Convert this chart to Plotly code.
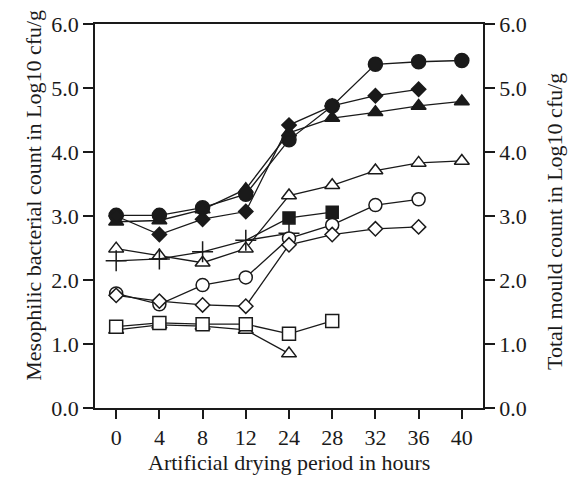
import plotly.graph_objects as go

# Drying period categories (hours) and their tick labels
hours = ["0", "4", "8", "12", "24", "28", "32", "36", "40"]

# Series values in Log10 cfu/g, one entry per sampling time
filled_circle = [3.01, 3.01, 3.13, 3.34, 4.19, 4.72, 5.37, 5.41, 5.43]
filled_triangle = [2.91, 2.93, 3.10, 3.42, 4.30, 4.53, 4.62, 4.72, 4.79]
filled_diamond = [3.00, 2.71, 2.95, 3.07, 4.42, 4.72, 4.88, 4.98]
plus_series = [2.30, 2.33, 2.44, 2.62, 2.73]
filled_square_hours = ["12", "24", "28"]
filled_square = [2.62, 2.97, 3.06]
open_triangle_hi = [2.49, 2.38, 2.27, 2.49, 3.32, 3.48, 3.71, 3.83, 3.86]
open_circle = [1.79, 1.62, 1.92, 2.04, 2.65, 2.86, 3.17, 3.26]
open_diamond = [1.76, 1.67, 1.61, 1.59, 2.55, 2.71, 2.80, 2.83]
open_triangle_lo = [1.22, 1.30, 1.28, 1.22, 0.85]
open_square = [1.27, 1.33, 1.31, 1.31, 1.16, 1.36]

y_ticks = [0, 1, 2, 3, 4, 5, 6]
y_ticktext = ["0.0", "1.0", "2.0", "3.0", "4.0", "5.0", "6.0"]

INK = "#1a1a1a"
FONT = "'Liberation Serif', 'Times New Roman', serif"


def pos(labels):
    return [hours.index(h) for h in labels]


def series(values, symbol, size, filled, labels=None, yaxis="y", sizes=None):
    labels = labels if labels is not None else hours[:len(values)]
    return go.Scatter(
        x=pos(labels), y=values, mode="lines+markers", yaxis=yaxis,
        line=dict(color=INK, width=1.3),
        marker=dict(
            symbol=symbol, size=sizes if sizes is not None else size,
            color=INK if filled else "white", opacity=1,
            line=dict(color=INK, width=1.5),
        ),
        showlegend=False, hoverinfo="x+y",
    )


fig = go.Figure()
fig.add_trace(series(filled_circle, "circle", 14, True))
fig.add_trace(series(filled_triangle, "triangle-up", 13, True))
fig.add_trace(series(filled_diamond, "diamond", 11, True))
fig.add_trace(series(plus_series, "cross-thin", 15, False, yaxis="y2"))
# this series branches off the "+" series at 12 h, so its first point has no marker
fig.add_trace(series(filled_square, "square", 12, True, labels=filled_square_hours,
                     yaxis="y2", sizes=[0, 12, 12]))
fig.add_trace(series(open_triangle_hi, "triangle-up", 13, False))
fig.add_trace(series(open_circle, "circle", 13, False, yaxis="y2"))
fig.add_trace(series(open_diamond, "diamond", 11, False, yaxis="y2"))
fig.add_trace(series(open_triangle_lo, "triangle-up", 13, False, yaxis="y2"))
fig.add_trace(series(open_square, "square", 13, False, yaxis="y2"))

axis_common = dict(
    showline=True, linecolor=INK, linewidth=1.5,
    ticks="outside", tickcolor=INK, tickwidth=1.5,
    showgrid=False, zeroline=False,
    tickfont=dict(family=FONT, size=22, color=INK),
)

fig.update_layout(
    width=574, height=480,
    margin=dict(l=95, r=91, t=20, b=72),
    paper_bgcolor="white", plot_bgcolor="white",
    font=dict(family=FONT, size=22, color=INK),
    xaxis=dict(
        range=[-0.49, 8.49], tickvals=list(range(len(hours))), ticktext=hours,
        ticklen=9, mirror=True, **axis_common,
    ),
    yaxis=dict(range=[0, 6], tickvals=y_ticks, ticktext=y_ticktext,
               ticklen=10, **axis_common),
    yaxis2=dict(range=[0, 6], tickvals=y_ticks, ticktext=y_ticktext,
                ticklen=10, overlaying="y", side="right", **axis_common),
    annotations=[
        dict(text="Mesophilic bacterial count in Log10 cfu/g", textangle=-90,
             xref="paper", yref="paper", x=-0.157, y=0.553,
             xanchor="center", yanchor="middle", showarrow=False),
        dict(text="Total mould count in Log10 cfu/g", textangle=-90,
             xref="paper", yref="paper", x=1.186, y=0.485,
             xanchor="center", yanchor="middle", showarrow=False),
        dict(text="Artificial drying period in hours",
             xref="paper", yref="paper", x=0.5, y=-0.142,
             xanchor="center", yanchor="middle", showarrow=False),
    ],
)

fig.write_html("out.html")
